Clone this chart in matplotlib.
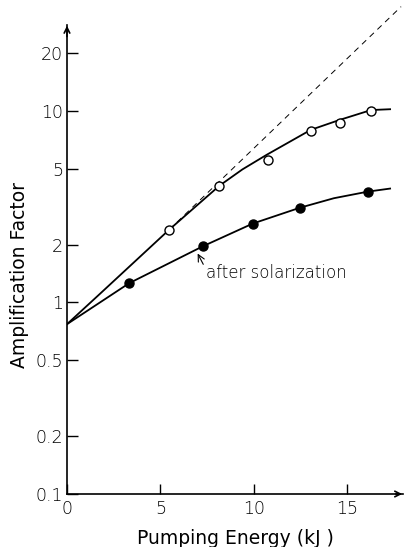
import matplotlib
matplotlib.use("Agg")
import matplotlib.pyplot as plt
from matplotlib.ticker import FixedLocator, NullLocator

plt.rcParams['font.family'] = ['DejaVu Sans']
plt.rcParams['font.weight'] = 200

open_x = [5.48, 8.17, 10.75, 13.06, 14.62, 16.29]
open_y = [2.40, 4.07, 5.56, 7.87, 8.66, 10.0]
solar_x = [3.33, 7.26, 9.95, 12.47, 16.13]
solar_y = [1.26, 1.96, 2.58, 3.12, 3.79]

# hand drawn curves through the points
upper_x = [0, 1.77, 5.48, 8.17, 9.4, 10.70, 13.06, 14.62, 16.29, 17.31]
upper_y = [0.77, 1.11, 2.40, 4.07, 4.95, 5.90, 7.96, 8.98, 10.1, 10.2]
lower_x = [0, 3.33, 7.26, 9.95, 12.47, 14.3, 16.13, 17.31]
lower_y = [0.77, 1.26, 1.96, 2.58, 3.12, 3.50, 3.79, 3.93]
dash_x = [5.48, 17.9]
dash_y = [2.40, 35.0]

ytick_vals = [0.1, 0.2, 0.5, 1, 2, 5, 10, 20]
ytick_labels = ['0.1', '0.2', '0.5', '1', '2', '5', '10', '20']
xtick_vals = [0, 5, 10, 15]

fig = plt.figure(figsize=(4.05, 5.47), dpi=100)
ax = fig.add_axes([0.1654, 0.0969, 0.8296, 0.857])
ax.set_yscale('log')
ax.set_xlim(0, 18)
ax.set_ylim(0.1, 28)

# 曲线
ax.plot(upper_x, upper_y, color='black', lw=1.3)
ax.plot(lower_x, lower_y, color='black', lw=1.3)
ax.plot(dash_x, dash_y, color='black', lw=0.7, dashes=(6, 5), clip_on=False)
ax.plot(open_x, open_y, 'o', ms=6.5, mfc='white', mec='black', mew=1.0)
ax.plot(solar_x, solar_y, 'o', ms=6.5, color='black')

# 坐标轴
for s in ['top', 'right']:
    ax.spines[s].set_visible(False)
ax.spines['left'].set_linewidth(1.2)
ax.spines['bottom'].set_linewidth(1.2)
ax.annotate('', xy=(0, 1.005), xytext=(0, 0.97), xycoords='axes fraction',
            arrowprops=dict(arrowstyle='->', lw=1.2, color='black'))
ax.annotate('', xy=(1.006, 0), xytext=(0.97, 0), xycoords='axes fraction',
            arrowprops=dict(arrowstyle='->', lw=1.2, color='black'))

ax.yaxis.set_major_locator(FixedLocator(ytick_vals))
ax.yaxis.set_minor_locator(NullLocator())
ax.set_yticklabels(ytick_labels)
ax.set_xticks(xtick_vals)
ax.tick_params(axis='y', direction='in', length=8, width=1.0, labelsize=12.5, pad=3)
ax.tick_params(axis='x', direction='in', length=7, width=1.0, labelsize=12.5, pad=4)

ax.set_xlabel('Pumping Energy (kJ )', fontsize=13.5)
ax.set_ylabel('Amplification Factor', fontsize=13.5)
ax.xaxis.set_label_coords(0.50, -0.074)
ax.yaxis.set_label_coords(-0.112, 0.467)

ax.annotate('after solarization', xy=(7.0, 1.80), xytext=(7.45, 1.42),
            fontsize=12, va='center', ha='left',
            arrowprops=dict(arrowstyle='->', lw=0.8, color='black',
                            shrinkA=0, shrinkB=0, relpos=(0, 0.7)))

fig.savefig('out.png', dpi=100)
